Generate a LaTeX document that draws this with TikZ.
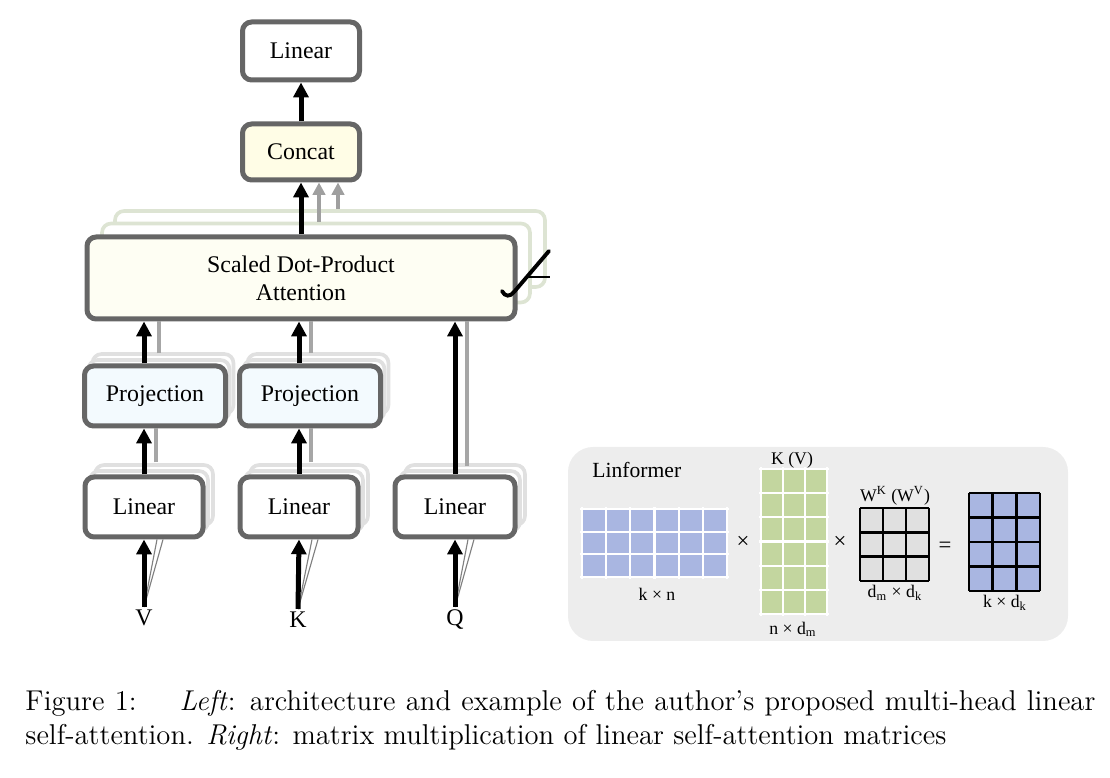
\documentclass[tikz,border=0pt]{standalone}
\usepackage{fontspec}
\newfontfamily\tnr{Liberation Serif}
\usetikzlibrary{arrows.meta,calc}

\definecolor{boxgray}{HTML}{666666}
\definecolor{concatfill}{HTML}{FFFDE6}
\definecolor{attnfill}{HTML}{FEFEF3}
\definecolor{projfill}{HTML}{F3FAFE}
\definecolor{attshadow}{HTML}{DDE4D3}
\definecolor{boxshadow}{HTML}{E0E0E0}
\definecolor{panelgray}{HTML}{EDEDED}
\definecolor{matblue}{HTML}{A9B6E1}
\definecolor{matgreen}{HTML}{C3D69F}
\definecolor{matgray}{HTML}{E0E0E0}

\newcommand\px{0.44pt}

\begin{document}
\begin{tikzpicture}[x=0.44pt, y=-0.44pt,
  blk/.style={draw=boxgray, line width=2.2pt, rounded corners=4pt, inner sep=0pt,
    align=center, font=\tnr\fontsize{10.5}{12.4}\selectfont},
  ghost/.style={draw=#1, line width=1.6pt, rounded corners=4pt, fill=white, inner sep=0pt},
  arr/.style={line width=2.2pt, -{Triangle[length=6.5pt,width=6.5pt]}},
  garr/.style={draw=gray!75, line width=1.5pt, -{Triangle[length=5.5pt,width=5.5pt]}, color=gray!75},
  gline/.style={draw=gray!70, line width=1.4pt},
  fan/.style={draw=gray, line width=0.5pt},
  inlbl/.style={font=\tnr\fontsize{10.5}{12}\selectfont, inner sep=1pt},
  matlbl/.style={font=\tnr\fontsize{7.8}{9}\selectfont, inner sep=0pt},
  oplbl/.style={font=\tnr\fontsize{10}{12}\selectfont, inner sep=0pt}
]
\useasboundingbox (0,0) rectangle (1110,778);

% output side
\node[blk, fill=white, minimum width=117*\px, minimum height=58*\px] (out) at (301,51) {Linear};
\node[blk, fill=concatfill, minimum width=117*\px, minimum height=56*\px] (concat) at (301,152) {Concat};
\draw[arr] (concat.north) -- (out.south);

% attention heads
\node[ghost=attshadow, minimum width=430*\px, minimum height=76*\px] (att3) at (330,249) {};
\node[ghost=attshadow, minimum width=428*\px, minimum height=79*\px] (att2) at (316,263) {};
\node[blk, fill=attnfill, minimum width=428*\px, minimum height=82*\px] (att) at (301,278)
  {Scaled Dot-Product\\Attention};
\coordinate (ag2) at ($(att2.north)+(3,0)$);
\coordinate (ag3) at ($(att3.north)+(8,0)$);
\draw[garr] (ag2) -- (ag2 |- concat.south);
\draw[garr] (ag3) -- (ag3 |- concat.south);
\draw[arr] (att.north) -- (concat.south);

% h mark
\draw[line width=1.7pt, line cap=round] (502,291) .. controls (505,297) and (510,297) .. (514,292) -- (549,251);
\draw[line width=0.8pt] (527,277) -- (550,277);

% projections
\node[ghost=boxshadow, minimum width=141*\px, minimum height=60*\px] (vproj3) at (163,384) {};
\node[ghost=boxshadow, minimum width=141*\px, minimum height=60*\px] (vproj2) at (159,390) {};
\node[blk, fill=projfill, minimum width=141*\px, minimum height=60*\px] (vproj) at (155,396) {Projection};
\node[ghost=boxshadow, minimum width=141*\px, minimum height=60*\px] (kproj3) at (318,384) {};
\node[ghost=boxshadow, minimum width=141*\px, minimum height=60*\px] (kproj2) at (314,390) {};
\node[blk, fill=projfill, minimum width=141*\px, minimum height=60*\px] (kproj) at (310,396) {Projection};

% linear layers
\node[ghost=boxshadow, minimum width=118*\px, minimum height=60*\px] (vlin3) at (154,495) {};
\node[ghost=boxshadow, minimum width=118*\px, minimum height=60*\px] (vlin2) at (149,501) {};
\node[blk, fill=white, minimum width=118*\px, minimum height=60*\px] (vlin) at (144,507) {Linear};
\node[ghost=boxshadow, minimum width=118*\px, minimum height=60*\px] (klin3) at (309,495) {};
\node[ghost=boxshadow, minimum width=118*\px, minimum height=60*\px] (klin2) at (304,501) {};
\node[blk, fill=white, minimum width=118*\px, minimum height=60*\px] (klin) at (299,507) {Linear};
\node[ghost=boxshadow, minimum width=120*\px, minimum height=60*\px] (qlin3) at (465,495) {};
\node[ghost=boxshadow, minimum width=120*\px, minimum height=60*\px] (qlin2) at (460,501) {};
\node[blk, fill=white, minimum width=120*\px, minimum height=60*\px] (qlin) at (455,507) {Linear};

% inputs
\node[inlbl, anchor=north] (vin) at (144,607) {V};
\node[inlbl, anchor=north] (kin) at (298,609) {K};
\node[inlbl, anchor=north] (qin) at (455,607) {Q};

\draw[fan] (vin.north) -- ($(vlin.south)+(13,0)$);
\draw[fan] (vin.north) -- ($(vlin.south)+(19,0)$);
\draw[fan] (kin.north) -- ($(klin.south)+(13,0)$);
\draw[fan] (kin.north) -- ($(klin.south)+(19,0)$);
\draw[fan] (qin.north) -- ($(qlin.south)+(13,0)$);
\draw[fan] (qin.north) -- ($(qlin.south)+(19,0)$);
\draw[arr] (vin.north) -- (vlin.south);
\draw[arr] (kin.north) -- (klin.south);
\draw[arr] (qin.north) -- (qlin.south);

% linear -> projection -> attention
\coordinate (vg1) at ($(vlin.north)+(12,-12)$);
\coordinate (vg2) at ($(vproj.north)+(4,-10)$);
\coordinate (kg1) at ($(klin.north)+(12,-12)$);
\coordinate (kg2) at ($(kproj.north)+(1,-10)$);
\coordinate (qg1) at ($(qlin.north)+(12,-8)$);
\draw[gline] (vg1) -- (vg1 |- vproj.south);
\draw[gline] (vg2) -- (vg2 |- att.south);
\draw[gline] (kg1) -- (kg1 |- kproj.south);
\draw[gline] (kg2) -- (kg2 |- att.south);
\draw[gline] (qg1) -- (qg1 |- att.south);
\draw[arr] (vlin.north) -- (vlin.north |- vproj.south);
\draw[arr] (vproj.north -| vlin.north) -- (att.south -| vlin.north);
\draw[arr] (klin.north) -- (klin.north |- kproj.south);
\draw[arr] (kproj.north -| klin.north) -- (att.south -| klin.north);
\draw[arr] (qlin.north) -- (qlin.north |- att.south);

% Linformer panel
\fill[panelgray, rounded corners=11pt] (568,447) rectangle (1068,641);
\node[anchor=west, font=\tnr\fontsize{9.5}{11}\selectfont, inner sep=0pt] (title) at (592,470) {Linformer};

% k x n
\fill[matblue] (582,509) rectangle (727,577);
\foreach \i in {0,...,6} \draw[white, line width=1pt] (582+\i*24.17,507) -- (582+\i*24.17,579);
\foreach \j in {0,...,3} \draw[white, line width=1pt] (580,509+\j*22.67) -- (729,509+\j*22.67);
\node[matlbl] (kn) at (657,594) {k × n};
\node[oplbl] (times1) at (743,542) {×};

% n x d_m
\fill[matgreen] (761,469) rectangle (827,614);
\foreach \i in {0,...,3} \draw[white, line width=1pt] (761+\i*22,467) -- (761+\i*22,616);
\foreach \j in {0,...,6} \draw[white, line width=1pt] (759,469+\j*24.17) -- (829,469+\j*24.17);
\node[matlbl] (kv) at (792,460) {K (V)};
\node[matlbl] (ndm) at (793,629) {n × d\textsubscript{m}};
\node[oplbl] (times2) at (840,542) {×};

% d_m x d_k
\fill[matgray] (860,508) rectangle (929,581);
\foreach \i in {0,...,3} \draw[line width=1.2pt] (860+\i*23,508) -- (860+\i*23,581);
\foreach \j in {0,...,3} \draw[line width=1.2pt] (860,508+\j*24.33) -- (929,508+\j*24.33);
\node[matlbl] (wk) at (895,496) {W\textsuperscript{K} (W\textsuperscript{V})};
\node[matlbl] (dmdk) at (895,593) {d\textsubscript{m} × d\textsubscript{k}};
\node[oplbl] (eq) at (945,547) {=};

% k x d_k
\fill[matblue] (969,493) rectangle (1040,591);
\foreach \i in {0,...,3} \draw[line width=1.2pt] (969+\i*23.67,493) -- (969+\i*23.67,591);
\foreach \j in {0,...,4} \draw[line width=1.2pt] (969,493+\j*24.5) -- (1040,493+\j*24.5);
\node[matlbl] (kdk) at (1005,603) {k × d\textsubscript{k}};

% caption
\node[anchor=base west, inner sep=0pt, font=\fontsize{12.6}{15}\selectfont] (cap1) at (25,711)
  {\makebox[470.8pt][s]{Figure 1: \quad \textit{Left}: architecture and example of the author's proposed multi-head linear}};
\node[anchor=base west, inner sep=0pt, font=\fontsize{12.6}{15}\selectfont] (cap2) at (25,745)
  {self-attention. \textit{Right}: matrix multiplication of linear self-attention matrices};
\end{tikzpicture}
\end{document}
